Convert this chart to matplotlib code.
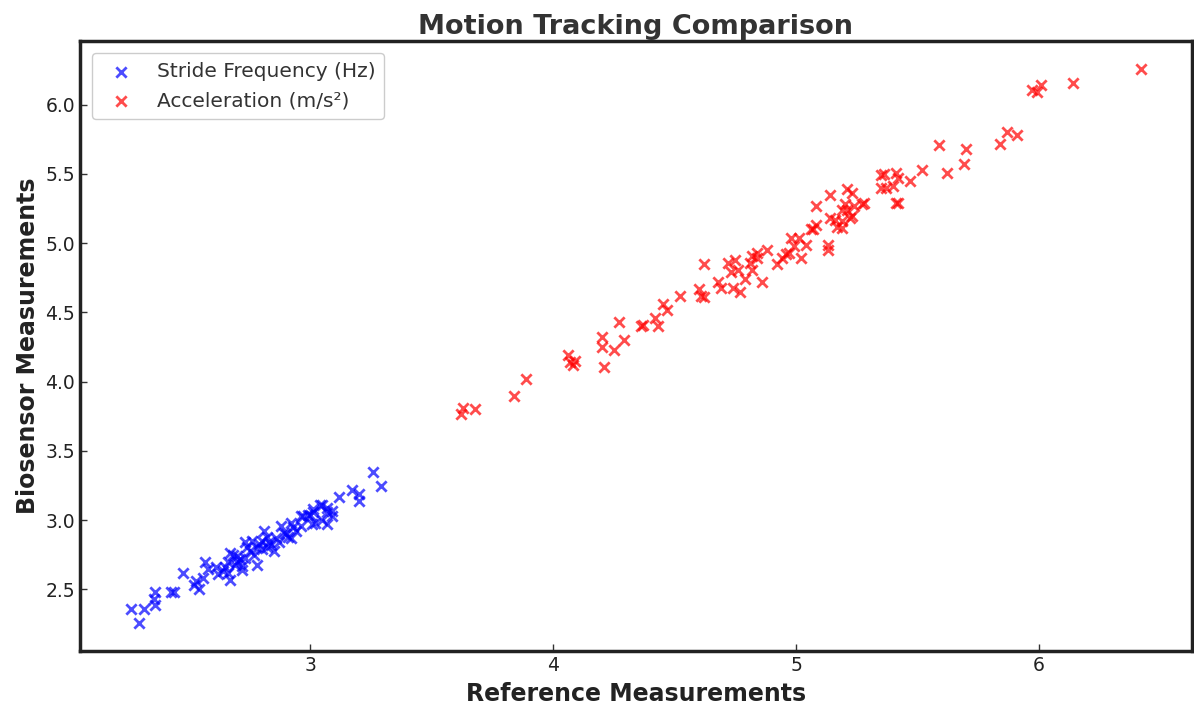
import matplotlib
matplotlib.use("Agg")
import matplotlib.pyplot as plt

stride_ref = [2.26, 2.295, 2.316, 2.36, 2.36, 2.355, 2.425, 2.44, 2.475, 2.53,
              2.54, 2.52, 2.565, 2.56, 2.58, 2.61, 2.62, 2.65, 2.67, 2.66,
              2.68, 2.71, 2.73, 2.72, 2.67, 2.70, 2.74, 2.77, 2.78, 2.76,
              2.81, 2.80, 2.82, 2.85, 2.88, 2.89, 2.92, 2.92, 2.94, 2.96,
              2.99, 3.01, 3.005, 2.97, 3.04, 3.05, 3.07, 2.72, 2.66, 3.26,
              3.29, 3.12, 3.17, 3.20, 3.20, 3.07, 3.09, 3.07, 3.01, 3.00,
              3.05, 3.02, 2.96, 3.09, 2.78, 2.79, 2.80, 2.83, 2.84, 2.86,
              2.87, 2.90, 2.91, 2.93, 2.75, 2.73, 2.70, 2.69, 2.64, 2.82]
stride_bio = [2.356, 2.255, 2.36, 2.48, 2.385, 2.43, 2.48, 2.48, 2.62, 2.56,
              2.50, 2.535, 2.70, 2.585, 2.645, 2.66, 2.61, 2.66, 2.57, 2.70,
              2.75, 2.72, 2.84, 2.67, 2.76, 2.70, 2.81, 2.75, 2.68, 2.85,
              2.92, 2.85, 2.81, 2.78, 2.96, 2.91, 2.98, 2.87, 2.92, 2.96,
              3.04, 3.06, 2.97, 3.03, 3.11, 3.005, 3.06, 2.64, 2.62, 3.35,
              3.245, 3.17, 3.22, 3.19, 3.14, 3.09, 3.065, 2.97, 3.08, 3.04,
              3.11, 2.98, 3.03, 3.03, 2.80, 2.83, 2.79, 2.84, 2.82, 2.87,
              2.84, 2.90, 2.88, 2.95, 2.78, 2.73, 2.74, 2.68, 2.63, 2.88]

accel_ref = [3.62, 3.63, 3.68, 3.84, 3.89, 4.06, 4.07, 4.08, 4.09, 4.20,
             4.20, 4.21, 4.25, 4.27, 4.29, 4.36, 4.37, 4.42, 4.43, 4.45,
             4.47, 4.52, 4.60, 4.62, 4.62, 4.68, 4.69, 4.72, 4.74, 4.75,
             4.76, 4.77, 4.79, 4.81, 4.82, 4.84, 4.84, 4.86, 4.88, 4.92,
             4.94, 4.97, 4.98, 5.01, 4.99, 5.02, 5.04, 5.07, 5.08, 5.08,
             5.13, 5.13, 5.14, 5.14, 5.16, 5.19, 5.19, 5.22, 5.17, 5.19,
             5.06, 5.20, 5.21, 5.23, 5.24, 5.27, 5.28, 5.36, 5.37, 5.40,
             5.41, 5.42, 5.47, 5.41, 5.42, 5.52, 5.62, 5.59, 5.69, 5.70,
             5.84, 5.87, 5.91, 5.97, 5.99, 6.01, 6.14, 6.42, 4.61, 4.73,
             4.82, 4.96, 5.23, 5.21, 5.35, 5.35]
accel_bio = [3.77, 3.81, 3.80, 3.90, 4.02, 4.19, 4.14, 4.12, 4.15, 4.32,
             4.25, 4.11, 4.23, 4.43, 4.30, 4.40, 4.41, 4.46, 4.40, 4.56,
             4.52, 4.62, 4.67, 4.61, 4.85, 4.72, 4.68, 4.86, 4.68, 4.88,
             4.81, 4.65, 4.74, 4.86, 4.91, 4.89, 4.93, 4.72, 4.95, 4.85,
             4.89, 4.93, 5.04, 5.04, 4.98, 4.89, 4.99, 5.10, 5.13, 5.27,
             4.95, 4.99, 5.18, 5.35, 5.17, 5.24, 5.16, 5.18, 5.12, 5.11,
             5.10, 5.28, 5.39, 5.36, 5.27, 5.28, 5.29, 5.50, 5.40, 5.41,
             5.51, 5.47, 5.45, 5.29, 5.29, 5.53, 5.51, 5.71, 5.57, 5.68,
             5.72, 5.80, 5.78, 6.11, 6.09, 6.14, 6.16, 6.26, 4.62, 4.79,
             4.81, 4.92, 5.20, 5.24, 5.49, 5.40]

series_labels = ["Stride Frequency (Hz)", "Acceleration (m/s²)"]

fig = plt.figure(figsize=(11.94, 7.07), dpi=100)
ax = fig.add_axes([0.067, 0.079, 0.931, 0.863])

ax.scatter(stride_ref, stride_bio, marker="x", color="blue", alpha=0.7,
           s=55, linewidths=2, label=series_labels[0])
ax.scatter(accel_ref, accel_bio, marker="x", color="red", alpha=0.7,
           s=55, linewidths=2, label=series_labels[1])

ax.set_xticks([3, 4, 5, 6])
ax.set_yticks([2.5, 3.0, 3.5, 4.0, 4.5, 5.0, 5.5, 6.0])
ax.tick_params(direction="in", labelsize=13.5, colors="#333333", length=5,
               width=1, labelcolor="#222222")
for sp in ax.spines.values():
    sp.set_linewidth(2.5)
    sp.set_color("#222222")

ax.set_title("Motion Tracking Comparison", fontsize=19.5, fontweight="bold",
             color="#333333", pad=5)
ax.set_xlabel("Reference Measurements", fontsize=17, fontweight="bold",
              color="#222222", labelpad=5)
ax.set_ylabel("Biosensor Measurements", fontsize=17, fontweight="bold",
              color="#222222", labelpad=4)

leg = ax.legend(loc="upper left", fontsize=14.5, scatterpoints=1,
                handletextpad=0.75, borderpad=0.45, framealpha=1,
                edgecolor="#cccccc", borderaxespad=0.6)
for t in leg.get_texts():
    t.set_color("#333333")

fig.savefig("out.png", dpi=100)
